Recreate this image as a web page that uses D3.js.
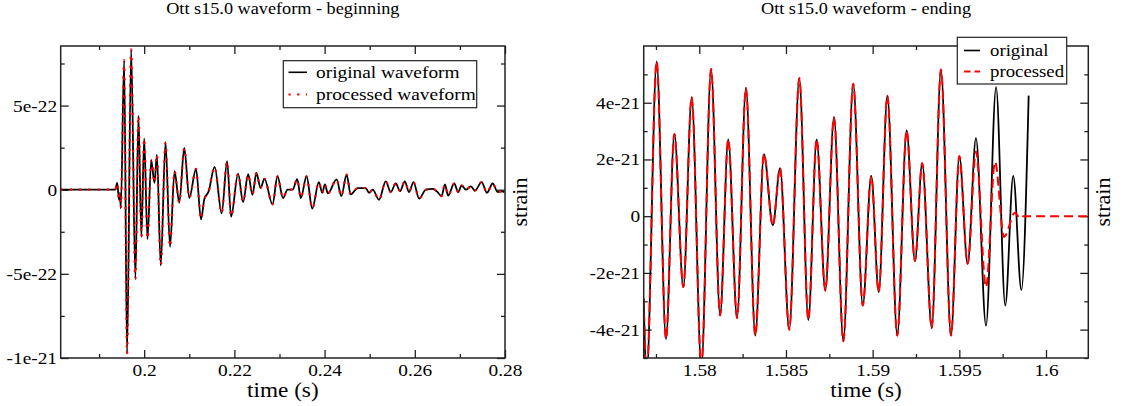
<!DOCTYPE html>
<html><head><meta charset="utf-8">
<script src="https://cdn.jsdelivr.net/npm/d3@7"></script>
<style>
body{margin:0;background:#fff}
svg{display:block}
text{fill:#000}
</style>
</head><body>
<svg id="c" width="1122" height="406"></svg>
<script>
// ---------- LEFT PANEL DATA (beginning) ----------
const leftTitle = "Ott s15.0 waveform - beginning";
const leftTime = [
 0.18149, 0.19358, 0.19402, 0.19442, 0.19462, 0.19482, 0.19556, 0.19620, 0.19711, 0.19805,
 0.19873, 0.19938, 0.20000, 0.20073, 0.20156, 0.20229, 0.20282, 0.20367, 0.20473, 0.20573,
 0.20673, 0.20778, 0.20889, 0.21000, 0.21149, 0.21260, 0.21333, 0.21429, 0.21562, 0.21718,
 0.21838, 0.21927, 0.22082, 0.22193, 0.22305, 0.22400, 0.22489, 0.22578, 0.22667, 0.22845,
 0.22956, 0.23078, 0.23178, 0.23289, 0.23393, 0.23473, 0.23600, 0.23727, 0.23873, 0.23949,
 0.24007, 0.24073, 0.24267, 0.24371, 0.24489, 0.24578, 0.24733, 0.24911, 0.24985, 0.25067,
 0.25207, 0.25356, 0.25467, 0.25578, 0.25673, 0.25778, 0.25873, 0.25971, 0.26096, 0.26245,
 0.26400, 0.26489, 0.26593, 0.26667, 0.26740, 0.26873, 0.26962, 0.27038, 0.27133, 0.27245,
 0.27333, 0.27482, 0.27600, 0.27727, 0.27838, 0.27933, 0.27989
];
const leftStrain = [
 0, 0, 0.4e-22, -0.6e-22, -0.2e-22, -1.1e-22, 7.7e-22, -9.75e-22, 8.34e-22, -5.3e-22,
 4.4e-22, -2.8e-22, 3.05e-22, -2.94e-22, 1.75e-22, 0.41e-22, 2.09e-22, -4.5e-22, 2.82e-22, -3.4e-22,
 1.1e-22, -0.77e-22, 2.48e-22, -0.5e-22, 1.24e-22, -1.76e-22, -0.57e-22, -0.1e-22, 1.36e-22, -1.4e-22,
 1.7e-22, -1.6e-22, 0.96e-22, -0.73e-22, 0.92e-22, -0.3e-22, 1.0e-22, 0.1e-22, 0.65e-22, -0.87e-22,
 0.8e-22, -0.5e-22, 0, 0, 0.63e-22, -0.5e-22, 0.8e-22, -1.12e-22, 0.45e-22, -0.18e-22,
 0.31e-22, -0.22e-22, 0.61e-22, -0.38e-22, 0.9e-22, -0.28e-22, 0.1e-22, 0.1e-22, -0.18e-22, 0,
 -0.6e-22, 0.5e-22, -0.14e-22, 0.37e-22, -0.08e-22, 0.5e-22, -0.14e-22, 0.45e-22, -0.53e-22, 0,
 0.05e-22, -0.1e-22, -0.38e-22, 0.31e-22, -0.35e-22, 0.37e-22, -0.14e-22, 0.25e-22, 0, 0.2e-22,
 -0.05e-22, 0.45e-22, -0.18e-22, 0.37e-22, -0.14e-22, -0.1e-22, -0.15e-22
];
// processed waveform overlaps the original in this window
const leftProcTime = leftTime.concat([0.28]);
const leftProcStrain = leftStrain.concat([-0.15e-22]);
const leftXTicks = [0.2, 0.22, 0.24, 0.26, 0.28];
const leftXTickLabels = ["0.2", "0.22", "0.24", "0.26", "0.28"];
const leftXMinor = [0.19, 0.21, 0.23, 0.25, 0.27];
const leftYTicks = [-1e-21, -5e-22, 0, 5e-22];
const leftYTickLabels = ["-1e-21", "-5e-22", "0", "5e-22"];
const leftYMinor = [-7.5e-22, -2.5e-22, 2.5e-22, 7.5e-22];
const leftLegend = ["original waveform", "processed waveform"];

// ---------- RIGHT PANEL DATA (ending) ----------
const rightTitle = "Ott s15.0 waveform - ending";
const rightTime = [
 1.57679, 1.57696, 1.57754, 1.57808, 1.57856, 1.57908, 1.57956, 1.58012, 1.58068, 1.58120,
 1.58167, 1.58218, 1.58269, 1.58323, 1.58373, 1.58424, 1.58466, 1.58519, 1.58577, 1.58629,
 1.58677, 1.58727, 1.58777, 1.58831, 1.58888, 1.58943, 1.58992, 1.59035, 1.59085, 1.59142,
 1.59196, 1.59244, 1.59286, 1.59341, 1.59394, 1.59452, 1.59500, 1.59548, 1.59596, 1.59654,
 1.59712, 1.59765, 1.59811, 1.59858, 1.59900
];
const rightStrain = [
 -2.9e-21, -5.6e-21, 5.46e-21, -4.33e-21, 2.90e-21, -2.50e-21, 4.20e-21, -5.3e-21, 5.19e-21, -3.5e-21,
 2.71e-21, -3.59e-21, 4.52e-21, -4.21e-21, 2.19e-21, -0.32e-21, 1.69e-21, -4.0e-21, 4.87e-21, -3.66e-21,
 2.71e-21, -2.62e-21, 3.49e-21, -4.41e-21, 4.67e-21, -3.15e-21, 1.42e-21, -2.68e-21, 4.25e-21, -4.21e-21,
 3.02e-21, -1.58e-21, 1.87e-21, -3.94e-21, 5.17e-21, -4.21e-21, 2.12e-21, -1.68e-21, 2.75e-21, -3.86e-21,
 4.55e-21, -3.15e-21, 1.42e-21, -2.6e-21, 4.25e-21
];
// processed: identical up to 1.59548 s, then tapered to zero
const rightProcTailTime = [1.59596, 1.59654, 1.59706, 1.59758, 1.59821, 1.59850, 1.59870, 1.60240];
const rightProcTailStrain = [2.28e-21, -2.50e-21, 1.92e-21, -0.73e-21, 0.12e-21, -0.08e-21, 0, 0];
const rightProcTime = rightTime.slice(0, 38).concat(rightProcTailTime);
const rightProcStrain = rightStrain.slice(0, 38).concat(rightProcTailStrain);
const rightXTicks = [1.58, 1.585, 1.59, 1.595, 1.6];
const rightXTickLabels = ["1.58", "1.585", "1.59", "1.595", "1.6"];
const rightXMinor = [1.5775, 1.5825, 1.5875, 1.5925, 1.5975];
const rightYTicks = [-4e-21, -2e-21, 0, 2e-21, 4e-21];
const rightYTickLabels = ["-4e-21", "-2e-21", "0", "2e-21", "4e-21"];
const rightYMinor = [-5e-21, -3e-21, -1e-21, 1e-21, 3e-21, 5e-21];
const rightLegend = ["original", "processed"];

const xLabel = "time (s)";
const yLabel = "strain";

// ---------- FONT ----------
const FONT = '"Liberation Serif", "Times New Roman", serif';
const ctx = document.createElement("canvas").getContext("2d");
ctx.font = `17px ${FONT}`;
// horizontal stretch so that tick labels have the reference's widths
const SX = 78 / ctx.measureText("5e-220.24").width;

// ---------- DRAWING ----------
const svg = d3.select("#c").attr("font-family", FONT);

function panel(cfg) {
  const f = cfg.frame;
  const x = d3.scaleLinear().domain(cfg.xDomain).range([f.left, f.right]);
  const y = d3.scaleLinear().domain(cfg.yDomain).range([f.bottom, f.top]);
  const g = svg.append("g");
  const clipId = cfg.id + "-clip";
  svg.append("clipPath").attr("id", clipId).append("rect")
    .attr("x", f.left).attr("y", f.top).attr("width", f.right - f.left).attr("height", f.bottom - f.top);

  const styleAxis = sel => {
    sel.select(".domain").remove();
    sel.selectAll(".tick line").attr("stroke", "#222").attr("stroke-width", 1.3);
    sel.attr("font-family", FONT).attr("font-size", 17);
  };
  g.append("g").attr("transform", `translate(0,${f.bottom})`)
    .call(d3.axisBottom(x).tickValues(cfg.xTicks).tickSize(-8).tickPadding(6)
      .tickFormat((d, i) => cfg.xTickLabels[i]))
    .call(styleAxis)
    .selectAll("text").attr("transform", `scale(${SX},1)`);
  g.append("g").attr("transform", `translate(0,${f.bottom})`)
    .call(d3.axisBottom(x).tickValues(cfg.xMinor).tickSize(-4).tickFormat(""))
    .call(styleAxis);
  g.append("g").attr("transform", `translate(0,${f.top})`)
    .call(d3.axisTop(x).tickValues(cfg.xTicks).tickSize(-8).tickFormat(""))
    .call(styleAxis);
  g.append("g").attr("transform", `translate(0,${f.top})`)
    .call(d3.axisTop(x).tickValues(cfg.xMinor).tickSize(-4).tickFormat(""))
    .call(styleAxis);
  g.append("g").attr("transform", `translate(${f.left},0)`)
    .call(d3.axisLeft(y).tickValues(cfg.yTicks).tickSize(-8).tickPadding(3.2)
      .tickFormat((d, i) => cfg.yTickLabels[i]))
    .call(styleAxis)
    .selectAll("text").attr("transform", `scale(${SX},1)`);
  g.append("g").attr("transform", `translate(${f.left},0)`)
    .call(d3.axisLeft(y).tickValues(cfg.yMinor).tickSize(-4).tickFormat(""))
    .call(styleAxis);
  g.append("g").attr("transform", `translate(${f.right},0)`)
    .call(d3.axisRight(y).tickValues(cfg.yTicks).tickSize(-8).tickFormat(""))
    .call(styleAxis);
  g.append("g").attr("transform", `translate(${f.right},0)`)
    .call(d3.axisRight(y).tickValues(cfg.yMinor).tickSize(-4).tickFormat(""))
    .call(styleAxis);

  const line = d3.line().x(d => x(d[0])).y(d => y(d[1])).curve(d3.curveMonotoneX);
  const orig = d3.zip(cfg.origT, cfg.origV);
  const proc = d3.zip(cfg.procT, cfg.procV);
  const lines = g.append("g").attr("clip-path", `url(#${clipId})`);
  lines.append("path").attr("d", line(orig)).attr("fill", "none")
    .attr("stroke", "#000").attr("stroke-width", 1.8);
  lines.append("path").attr("d", line(proc)).attr("fill", "none")
    .attr("stroke", "#ff0000").attr("stroke-width", cfg.procWidth)
    .attr("stroke-dasharray", cfg.procDash);

  g.append("rect").attr("x", f.left).attr("y", f.top)
    .attr("width", f.right - f.left).attr("height", f.bottom - f.top)
    .attr("fill", "none").attr("stroke", "#222").attr("stroke-width", 1.5);

  const cx = (f.left + f.right) / 2, cy = (f.top + f.bottom) / 2;
  g.append("text").attr("transform", `translate(${cx},14) scale(${SX},1)`)
    .attr("text-anchor", "middle").attr("font-size", 16).text(cfg.title);
  g.append("text").attr("transform", `translate(${cx},397) scale(${SX * 0.97},1)`)
    .attr("text-anchor", "middle").attr("font-size", 21).text(xLabel);
  g.append("text").attr("transform", `translate(${f.right + 22},${cy}) rotate(-90)`)
    .attr("text-anchor", "middle").attr("font-size", 22).text(yLabel);

  const L = cfg.legend;
  const lg = g.append("g");
  lg.append("rect").attr("x", L.x).attr("y", L.y).attr("width", L.w).attr("height", L.h)
    .attr("fill", "#fff").attr("stroke", "#222").attr("stroke-width", 1.2);
  lg.append("line").attr("x1", L.lx1).attr("x2", L.lx2).attr("y1", L.row1).attr("y2", L.row1)
    .attr("stroke", "#000").attr("stroke-width", 1.6);
  lg.append("line").attr("x1", L.lx1).attr("x2", L.lx2).attr("y1", L.row2).attr("y2", L.row2)
    .attr("stroke", "#ff0000").attr("stroke-width", cfg.procWidth).attr("stroke-dasharray", L.dash);
  lg.append("text").attr("transform", `translate(${L.tx},${L.row1 + L.base}) scale(${SX},1)`)
    .attr("font-size", L.fs).text(cfg.legendLabels[0]);
  lg.append("text").attr("transform", `translate(${L.tx},${L.row2 + L.base}) scale(${SX},1)`)
    .attr("font-size", L.fs).text(cfg.legendLabels[1]);
}

panel({
  id: "left", title: leftTitle,
  frame: {left: 60.7, right: 505, top: 46, bottom: 358},
  xDomain: [0.18149, 0.28], yDomain: [-1e-21, 8.54e-22],
  xTicks: leftXTicks, xTickLabels: leftXTickLabels, xMinor: leftXMinor,
  yTicks: leftYTicks, yTickLabels: leftYTickLabels, yMinor: leftYMinor,
  origT: leftTime, origV: leftStrain, procT: leftProcTime, procV: leftProcStrain,
  procWidth: 2.2, procDash: "2.2,7",
  legendLabels: leftLegend,
  legend: {x: 283.3, y: 60.7, w: 193.4, h: 47, lx1: 288.5, lx2: 307,
    row1: 72.3, row2: 94.5, tx: 316, base: 5.6, fs: 17, dash: "2.2,6.5"}
});

panel({
  id: "right", title: rightTitle,
  frame: {left: 643.7, right: 1088.3, top: 46, bottom: 358},
  xDomain: [1.576793, 1.60244], yDomain: [-5e-21, 6e-21],
  xTicks: rightXTicks, xTickLabels: rightXTickLabels, xMinor: rightXMinor,
  yTicks: rightYTicks, yTickLabels: rightYTickLabels, yMinor: rightYMinor,
  origT: rightTime, origV: rightStrain, procT: rightProcTime, procV: rightProcStrain,
  procWidth: 2, procDash: "9,5",
  legendLabels: rightLegend,
  legend: {x: 957.3, y: 37.3, w: 109.4, h: 46.7, lx1: 964, lx2: 980,
    row1: 50.5, row2: 71.5, tx: 990, base: 5, fs: 16.5, dash: "6.5,4"}
});
</script>
</body></html>
